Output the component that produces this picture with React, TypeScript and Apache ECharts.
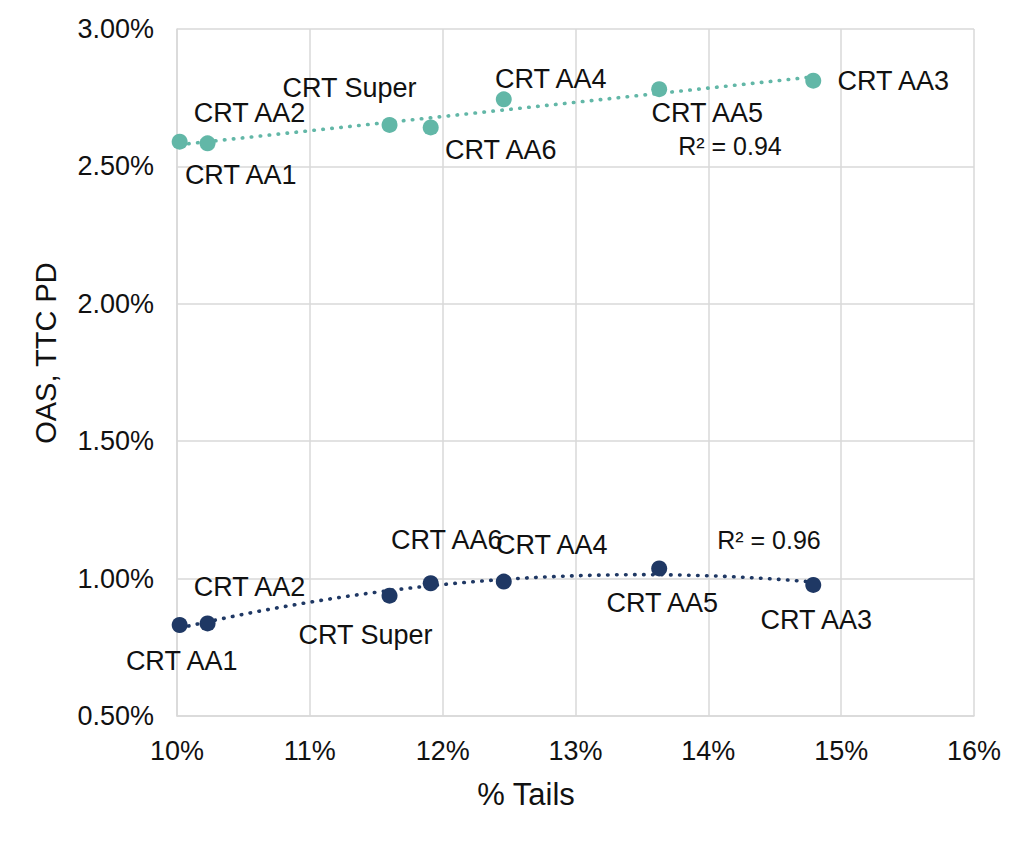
import React, { useEffect, useRef } from "react";
import * as echarts from "echarts";

const categories = ["CRT AA1", "CRT AA2", "CRT Super", "CRT AA6", "CRT AA4", "CRT AA5", "CRT AA3"];
const tails = [10.02, 10.23, 11.6, 11.91, 12.46, 13.63, 14.79];
const oas = [2.59, 2.584, 2.651, 2.642, 2.744, 2.781, 2.812];
const ttcPd = [0.831, 0.837, 0.938, 0.983, 0.989, 1.037, 0.977];
const xTicks = [10, 11, 12, 13, 14, 15, 16];
const yTicks = [0.5, 1.0, 1.5, 2.0, 2.5, 3.0];
const r2Labels = ["R² = 0.94", "R² = 0.96"];

// label offsets (layout only)
const oasLabelOffsets = [[61, 33], [42, -30], [-40, -37], [70, 23], [47, -20], [48, 24], [80, 0]];
const pdLabelOffsets = [[2, 36], [42, -36], [-24, 39], [16, -43], [48, -37], [3, 35], [3, 35]];

const TEAL = "#62b7a7";
const NAVY = "#1f3864";
const FONT = "Liberation Sans, Arial, sans-serif";

function linearFit(xs: number[], ys: number[]) {
  const n = xs.length;
  const mx = xs.reduce((a, b) => a + b, 0) / n;
  const my = ys.reduce((a, b) => a + b, 0) / n;
  let sxy = 0, sxx = 0;
  for (let i = 0; i < n; i++) {
    sxy += (xs[i] - mx) * (ys[i] - my);
    sxx += (xs[i] - mx) ** 2;
  }
  const b = sxy / sxx;
  const a = my - b * mx;
  return (x: number) => a + b * x;
}

function quadFit(xs: number[], ys: number[]) {
  const n = xs.length;
  const mx = xs.reduce((a, b) => a + b, 0) / n;
  const S = [0, 0, 0, 0, 0];
  const T = [0, 0, 0];
  for (let i = 0; i < n; i++) {
    const u = xs[i] - mx;
    for (let k = 0; k < 5; k++) S[k] += u ** k;
    for (let k = 0; k < 3; k++) T[k] += ys[i] * u ** k;
  }
  const M = [
    [S[0], S[1], S[2], T[0]],
    [S[1], S[2], S[3], T[1]],
    [S[2], S[3], S[4], T[2]],
  ];
  for (let c = 0; c < 3; c++) {
    let p = c;
    for (let r = c + 1; r < 3; r++) if (Math.abs(M[r][c]) > Math.abs(M[p][c])) p = r;
    [M[c], M[p]] = [M[p], M[c]];
    for (let r = 0; r < 3; r++) {
      if (r === c) continue;
      const f = M[r][c] / M[c][c];
      for (let k = c; k < 4; k++) M[r][k] -= f * M[c][k];
    }
  }
  const c0 = M[0][3] / M[0][0];
  const c1 = M[1][3] / M[1][1];
  const c2 = M[2][3] / M[2][2];
  return (x: number) => {
    const u = x - mx;
    return c0 + c1 * u + c2 * u * u;
  };
}

function sampleCurve(f: (x: number) => number, x0: number, x1: number, steps: number) {
  const pts: number[][] = [];
  for (let i = 0; i <= steps; i++) {
    const x = x0 + ((x1 - x0) * i) / steps;
    pts.push([x, f(x)]);
  }
  return pts;
}

export default function App() {
  const ref = useRef<HTMLDivElement>(null);

  useEffect(() => {
    if (!ref.current) return;
    const chart = echarts.init(ref.current, null, { renderer: "svg" });
    const xMin = Math.min(...tails);
    const xMax = Math.max(...tails);
    const oasTrend = sampleCurve(linearFit(tails, oas), xMin, xMax, 2);
    const pdTrend = sampleCurve(quadFit(tails, ttcPd), xMin, xMax, 80);

    const mkPoints = (ys: number[]) =>
      tails.map((x, i) => ({ value: [x, ys[i]], name: categories[i] }));

    const labelStyle = {
      show: true,
      position: "inside",
      formatter: (p: any) => p.name,
      color: "#111",
      fontSize: 27,
      fontFamily: FONT,
      align: "center",
      verticalAlign: "middle",
    };

    const mkLayout = (offs: number[][]) => (p: any) => {
      const o = offs[p.dataIndex] || [0, 0];
      return { dx: o[0], dy: o[1], hideOverlap: false, moveOverlap: false };
    };

    const dotted = { type: [0.5, 8.5], cap: "round", width: 3.6 };

    const txt = (text: string, x: number, y: number, size: number, rot = 0) => ({
      type: "text",
      x,
      y,
      rotation: rot,
      style: {
        text,
        fontSize: size,
        fontFamily: FONT,
        fill: "#111",
        align: "center",
        verticalAlign: "middle",
      },
    });

    chart.setOption({
      animation: false,
      backgroundColor: "#fff",
      grid: { left: 177, top: 29, right: 50, bottom: 128, containLabel: false },
      xAxis: {
        type: "value",
        min: xTicks[0],
        max: xTicks[xTicks.length - 1],
        interval: 1,
        axisLine: { show: true, lineStyle: { color: "#d9d9d9", width: 1.5 } },
        axisTick: { show: false },
        splitLine: { show: true, lineStyle: { color: "#d9d9d9", width: 1.5 } },
        axisLabel: {
          formatter: (v: number) => `${Math.round(v)}%`,
          fontSize: 27,
          fontFamily: FONT,
          color: "#111",
          margin: 21,
        },
      },
      yAxis: {
        type: "value",
        min: yTicks[0],
        max: yTicks[yTicks.length - 1],
        interval: 0.5,
        axisLine: { show: true, lineStyle: { color: "#d9d9d9", width: 1.5 } },
        axisTick: { show: false },
        splitLine: { show: true, lineStyle: { color: "#d9d9d9", width: 1.5 } },
        axisLabel: {
          formatter: (v: number) => `${v.toFixed(2)}%`,
          fontSize: 27,
          fontFamily: FONT,
          color: "#111",
          margin: 23,
        },
      },
      graphic: [
        txt("OAS, TTC PD", 46, 353, 29, Math.PI / 2),
        txt("% Tails", 526, 794, 31),
        txt(r2Labels[0], 730, 146, 25),
        txt(r2Labels[1], 769, 540, 25),
      ],
      series: [
        {
          type: "line",
          data: oasTrend,
          showSymbol: false,
          symbol: "none",
          lineStyle: { ...dotted, color: TEAL },
          z: 2,
          silent: true,
        },
        {
          type: "line",
          data: pdTrend,
          showSymbol: false,
          symbol: "none",
          lineStyle: { ...dotted, color: NAVY },
          z: 2,
          silent: true,
        },
        {
          type: "scatter",
          symbolSize: 16,
          itemStyle: { color: TEAL, opacity: 1 },
          data: mkPoints(oas),
          label: labelStyle,
          labelLayout: mkLayout(oasLabelOffsets),
          z: 3,
        },
        {
          type: "scatter",
          symbolSize: 16,
          itemStyle: { color: NAVY, opacity: 1 },
          data: mkPoints(ttcPd),
          label: labelStyle,
          labelLayout: mkLayout(pdLabelOffsets),
          z: 3,
        },
      ],
    });
    return () => chart.dispose();
  }, []);

  return (
    <div
      ref={ref}
      style={{ position: "absolute", left: 0, top: 0, width: 1024, height: 844, background: "#fff" }}
    />
  );
}
